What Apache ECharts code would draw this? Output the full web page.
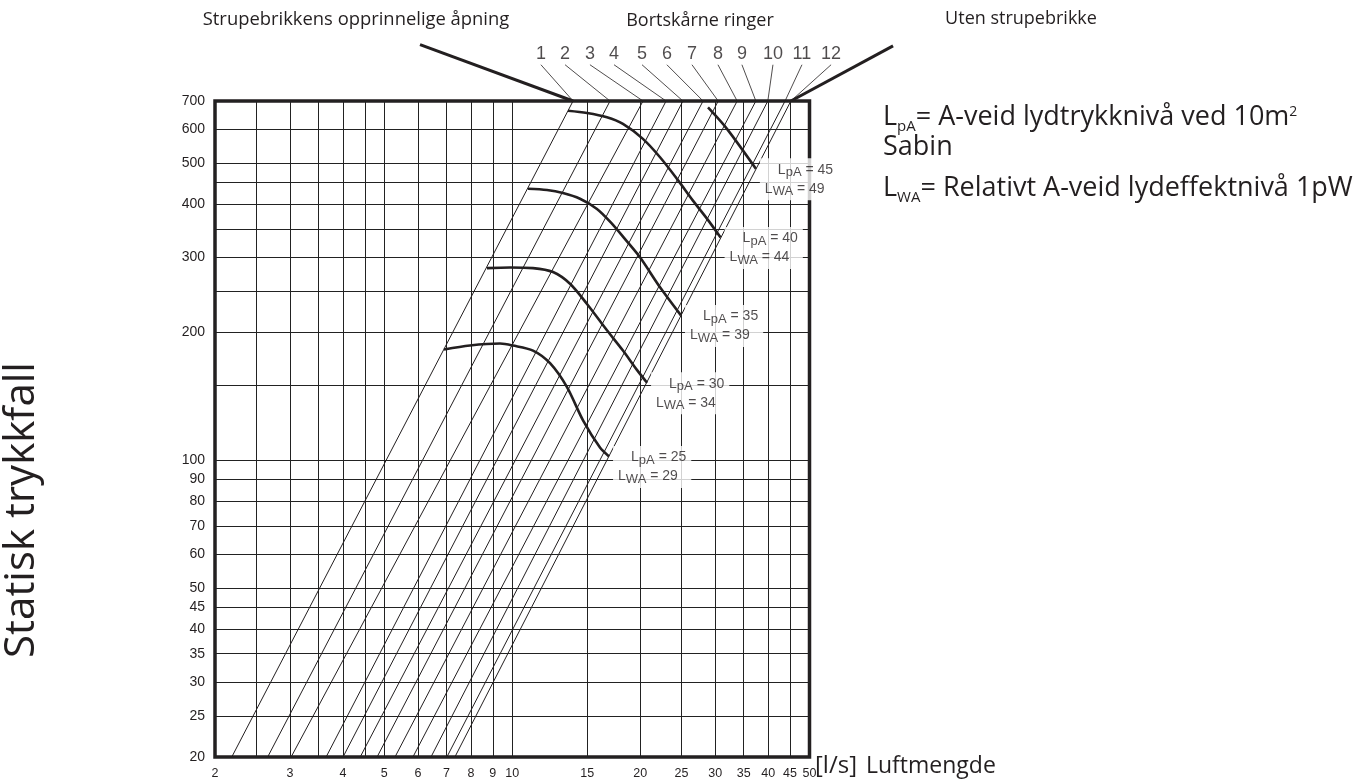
<!DOCTYPE html>
<html>
<head>
<meta charset="utf-8">
<title>Strupebrikke - trykkfall og lyd</title>
<script src="https://cdn.jsdelivr.net/npm/echarts@6/dist/echarts.min.js"></script>
<style>
  html, body { margin: 0; padding: 0; background: #fff; }
  #chart { width: 1367px; height: 784px; }
</style>
</head>
<body>
<div id="chart"></div>
<script>
// akser (log-log)
var flowTicks = [2, 2.5, 3, 3.5, 4, 4.5, 5, 6, 7, 8, 9, 10, 15, 20, 25, 30, 35, 40, 45, 50];
var flowLabels = [2, 3, 4, 5, 6, 7, 8, 9, 10, 15, 20, 25, 30, 35, 40, 45, 50];
var pressureTicks = [20, 25, 30, 35, 40, 45, 50, 60, 70, 80, 90, 100, 150, 200, 250, 300, 350, 400, 450, 500, 600, 700];
var pressureLabels = [20, 25, 30, 35, 40, 45, 50, 60, 70, 80, 90, 100, 200, 300, 400, 500, 600, 700];

// bortskaarne ringer: luftmengde ved 20 Pa og ved 700 Pa
var rings = [1, 2, 3, 4, 5, 6, 7, 8, 9, 10, 11, 12];
var ringQLow = [2.19, 2.66, 3.02, 3.65, 4.0, 4.39, 4.81, 5.30, 5.84, 6.44, 7.02, 7.33];
var ringQHigh = [13.9, 16.98, 20.3, 23.0, 25.2, 28.1, 30.5, 33.8, 37.4, 39.9, 43.8, 45.2];
// hvor ringnummeret staar (over diagrammet)
var ringLabelQ = [11.68, 13.31, 15.23, 17.35, 20.19, 23.10, 26.46, 30.46, 34.68, 41.02, 48.0, 56.2];
var ringLabelP = 852;

// pekere fra tekstene over diagrammet
var openingPointer = [[6.07, 950], [13.9, 700]];
var noRingPointer = [[78.6, 944], [45.2, 700]];

// lydkurver [l/s, Pa]
var lpa25 = [[6.91, 182], [7.95, 186], [9.36, 188], [10.04, 186], [11.19, 181], [12.27, 169], [13.45, 148.5], [14.67, 124], [16.08, 107], [16.89, 102]];
var lpa30 = [[8.72, 283], [9.88, 284], [11.19, 283], [12.47, 277], [13.67, 260], [14.99, 233], [16.70, 202], [18.21, 181], [19.64, 163], [20.75, 152]];
var lpa35 = [[10.89, 435], [12.07, 432], [13.16, 425], [14.43, 412], [15.82, 390], [17.07, 362], [18.61, 327], [19.97, 300], [22.26, 255], [24.93, 219]];
var lpa40 = [[13.52, 664], [14.99, 656], [16.70, 641], [18.21, 618], [20.29, 570], [22.26, 516], [24.40, 459], [26.60, 408], [28.70, 370], [30.9, 334]];
var lpa45 = [[28.86, 676], [31.98, 602], [37.4, 485]];
var lpaLevels = [25, 30, 35, 40, 45];
var lwaLevels = [29, 34, 39, 44, 49];

var ink = '#231f20';
var numFont = '"Liberation Sans", Arial, sans-serif';
var textFont = '"Open Sans", sans-serif';

var chart = echarts.init(document.getElementById('chart'));

// rette streker som kan gaa utenfor plottet (ledere og pekere)
function segments(rows, width) {
	return {
		type: 'custom',
		clip: false,
		silent: true,
		z: 3,
		data: rows,
		renderItem: function (params, api) {
			var a = api.coord([api.value(0), api.value(1)]);
			var b = api.coord([api.value(2), api.value(3)]);
			return {
				type: 'line',
				shape: { x1: a[0], y1: a[1], x2: b[0], y2: b[1] },
				style: { stroke: ink, lineWidth: width }
			};
		}
	};
}

var series = [];

rings.forEach(function (r, i) {
	series.push({
		name: 'ring ' + r,
		type: 'line',
		symbol: 'none',
		silent: true,
		z: 2,
		lineStyle: { color: ink, width: 1 },
		data: [[ringQLow[i], 20], [ringQHigh[i], 700]]
	});
});

series.push(segments(rings.map(function (r, i) {
	return [ringQHigh[i], 700, ringLabelQ[i], ringLabelP];
}), 0.8));

series.push(segments([openingPointer, noRingPointer].map(function (d) {
	return [d[1][0], d[1][1], d[0][0], d[0][1]];
}), 3));

series.push({
	type: 'scatter',
	symbolSize: 0,
	clip: false,
	silent: true,
	z: 5,
	data: rings.map(function (r, i) { return [ringLabelQ[i], ringLabelP, r]; }),
	label: {
		show: true,
		position: 'top',
		distance: 1.5,
		formatter: function (p) { return p.value[2]; },
		fontFamily: numFont,
		fontSize: 18,
		color: ink
	}
});

var curves = [lpa25, lpa30, lpa35, lpa40, lpa45];
curves.forEach(function (c, i) {
	series.push({
		name: 'LpA ' + lpaLevels[i],
		type: 'line',
		symbol: 'none',
		smooth: 0.3,
		silent: true,
		z: 4,
		lineStyle: { color: ink, width: 2.6 },
		data: c
	});
});

// LpA / LWA merkelapper ved enden av hver kurve
series.push({
	type: 'scatter',
	symbolSize: 0,
	clip: false,
	silent: true,
	z: 6,
	data: curves.map(function (c, i) {
		var e = c[c.length - 1];
		return [e[0], e[1], lpaLevels[i], lwaLevels[i]];
	}),
	label: {
		show: true,
		position: 'right',
		distance: 0,
		offset: [4, 10.5],
		backgroundColor: '#fff',
		padding: [2, 5],
		formatter: function (p) {
			return '{sp| }{n|L}{s|pA}{n| = ' + p.value[2] + '}\n{n|L}{s|WA}{n| = ' + p.value[3] + '}';
		},
		rich: {
			sp: { width: 13, lineHeight: 19, fontSize: 14 },
			n: { fontFamily: numFont, fontSize: 14, color: ink, lineHeight: 19 },
			s: { fontFamily: numFont, fontSize: 13, color: ink, lineHeight: 19, padding: [6, 0, 0, 0] }
		}
	}
});

var option = {
	animation: false,
	backgroundColor: '#fff',
	grid: {
		show: true,
		left: 215,
		top: 101,
		width: 594.5,
		height: 656,
		borderColor: ink,
		borderWidth: 3.5
	},
	xAxis: {
		type: 'log',
		logBase: 10,
		min: 2,
		max: 50,
		axisLine: { show: false },
		axisTick: { show: false, customValues: flowTicks },
		splitLine: { show: true, lineStyle: { color: '#222', width: 1 } },
		axisLabel: {
			customValues: flowLabels,
			margin: 10,
			fontFamily: numFont,
			fontSize: 12.5,
			color: ink,
			formatter: function (v) { return String(Math.round(v * 10) / 10); }
		}
	},
	yAxis: {
		type: 'log',
		logBase: 10,
		min: 20,
		max: 700,
		axisLine: { show: false },
		axisTick: { show: false, customValues: pressureTicks },
		splitLine: { show: true, lineStyle: { color: '#222', width: 1 } },
		axisLabel: {
			customValues: pressureLabels,
			margin: 10,
			fontFamily: numFont,
			fontSize: 14,
			color: ink,
			formatter: function (v) { return String(Math.round(v)); }
		}
	},
	graphic: [
		{ type: 'text', x: 356, y: 20, style: { text: 'Strupebrikkens opprinnelige åpning', font: '18.4px ' + textFont, fill: ink, align: 'center', verticalAlign: 'middle', textAlign: 'center', textVerticalAlign: 'middle' } },
		{ type: 'text', x: 700, y: 21, style: { text: 'Bortskårne ringer', font: '18px ' + textFont, fill: ink, align: 'center', verticalAlign: 'middle', textAlign: 'center', textVerticalAlign: 'middle' } },
		{ type: 'text', x: 1021, y: 19, style: { text: 'Uten strupebrikke', font: '18px ' + textFont, fill: ink, align: 'center', verticalAlign: 'middle', textAlign: 'center', textVerticalAlign: 'middle' } },
		{ type: 'text', x: 22, y: 510, rotation: Math.PI / 2, style: { text: 'Statisk trykkfall', font: '42px ' + textFont, fill: ink, align: 'center', verticalAlign: 'middle', textAlign: 'center', textVerticalAlign: 'middle' } },
		{ type: 'text', x: 815, y: 766, style: { text: '[l/s]', font: '24px ' + textFont, fill: ink, align: 'left', verticalAlign: 'middle', textAlign: 'left', textVerticalAlign: 'middle' } },
		{ type: 'text', x: 866, y: 766, style: { text: 'Luftmengde', font: '23px ' + textFont, fill: ink, align: 'left', verticalAlign: 'middle', textAlign: 'left', textVerticalAlign: 'middle' } },
		{ type: 'text', x: 883, y: 117, style: {
			text: '{m|L}{s|pA}{m|= A-veid lydtrykknivå ved 10m}{u|2}',
			fill: ink, align: 'left', verticalAlign: 'middle', textAlign: 'left', textVerticalAlign: 'middle',
			rich: {
				m: { font: '27px ' + textFont, fill: ink },
				s: { font: '15px ' + textFont, fill: ink, padding: [20, 0, 0, 0] },
				u: { font: '14px ' + textFont, fill: ink, padding: [0, 0, 9, 0] }
			}
		} },
		{ type: 'text', x: 883, y: 147, style: { text: 'Sabin', font: '27px ' + textFont, fill: ink, align: 'left', verticalAlign: 'middle', textAlign: 'left', textVerticalAlign: 'middle' } },
		{ type: 'text', x: 883, y: 188, style: {
			text: '{m|L}{s|WA}{m|= Relativt A-veid lydeffektnivå 1pW}',
			fill: ink, align: 'left', verticalAlign: 'middle', textAlign: 'left', textVerticalAlign: 'middle',
			rich: {
				m: { font: '27px ' + textFont, fill: ink },
				s: { font: '15px ' + textFont, fill: ink, padding: [20, 0, 0, 0] }
			}
		} }
	],
	series: series
};

chart.setOption(option);
</script>
</body>
</html>
